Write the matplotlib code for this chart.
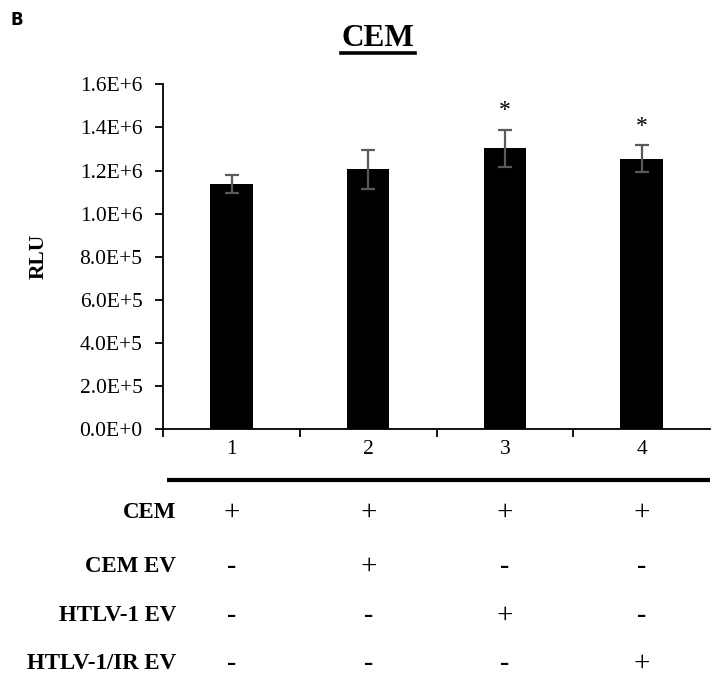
import numpy as np
import matplotlib.pyplot as plt

# values
groups = ["1", "2", "3", "4"]
rlu = [1.138e6, 1.205e6, 1.303e6, 1.255e6]
err = [0.042e6, 0.090e6, 0.085e6, 0.062e6]
signif = ["", "", "*", "*"]

row_names = ["CEM", "CEM EV", "HTLV-1 EV", "HTLV-1/IR EV"]
row_marks = [["+", "+", "+", "+"],
             ["-", "+", "-", "-"],
             ["-", "-", "+", "-"],
             ["-", "-", "-", "+"]]
yticks = np.arange(0, 1.61e6, 0.2e6)
ytick_labels = ["0.0E+0", "2.0E+5", "4.0E+5", "6.0E+5", "8.0E+5",
                "1.0E+6", "1.2E+6", "1.4E+6", "1.6E+6"]

plt.rcParams["font.family"] = ["Liberation Serif", "DejaVu Serif"]

fig = plt.figure(figsize=(7.15, 6.8), dpi=100)
ax = fig.add_axes([0.2284, 0.3687, 0.7646, 0.5073])

x = np.arange(1, len(groups) + 1)
ax.bar(x, rlu, width=0.31, color="black", zorder=2)
ax.errorbar(x, rlu, yerr=err, fmt="none", ecolor="#5a5a5a", elinewidth=1.6,
            capsize=5, capthick=1.6, zorder=3)
for xi, v, e, s in zip(x, rlu, err, signif):
    if s:
        ax.text(xi, v + e + 0.04e6, s, ha="center", va="bottom", fontsize=17)

ax.set_xlim(0.5, 4.5)
ax.set_ylim(0, 1.6e6)
ax.set_yticks(yticks)
ax.set_yticklabels(ytick_labels, fontsize=15.5)
ax.set_xticks(x)
ax.set_xticklabels(groups, fontsize=15.5)
ax.set_xticks(np.arange(0.5, 4.0, 1.0), minor=True)
ax.tick_params(axis="x", which="major", length=0, pad=8)
ax.tick_params(axis="x", which="minor", length=6, width=1.3, direction="out")
ax.tick_params(axis="y", length=6, width=1.3, direction="out", pad=9)
for sp in ["top", "right"]:
    ax.spines[sp].set_visible(False)
ax.spines["left"].set_linewidth(1.3)
ax.spines["bottom"].set_linewidth(1.3)

ax.set_ylabel("RLU", fontsize=15.5, fontweight="bold")
ax.yaxis.set_label_coords(-0.209, 0.5)

# title, underlined
fig.text(0.5287, 0.943, "CEM", ha="center", va="center", fontsize=22.5, fontweight="bold")
fig.add_artist(plt.Line2D([0.477, 0.580], [0.9216, 0.9216], color="black", lw=2.6))
fig.text(0.014, 0.971, "B", ha="left", va="center", fontsize=12, fontweight="bold",
         family=["DejaVu Sans"])

# condition table under the axis
ax.plot([0.007, 1.0], [-0.147, -0.147], transform=ax.transAxes, color="black",
        lw=3.0, clip_on=False, solid_capstyle="butt")
row_y = [-0.2417, -0.398, -0.541, -0.680]
tr = ax.get_xaxis_transform()
for name, marks, yy in zip(row_names, row_marks, row_y):
    ax.text(0.0232, yy, name, transform=ax.transAxes, ha="right", va="center",
            fontsize=16.5, fontweight="bold", clip_on=False)
    for xi, m in zip(x, marks):
        ax.text(xi, yy, m, transform=tr, ha="center", va="center",
                fontsize=21 if m == "+" else 20,
                fontweight="normal" if m == "+" else "bold", clip_on=False)

fig.savefig("out.png", dpi=100)
